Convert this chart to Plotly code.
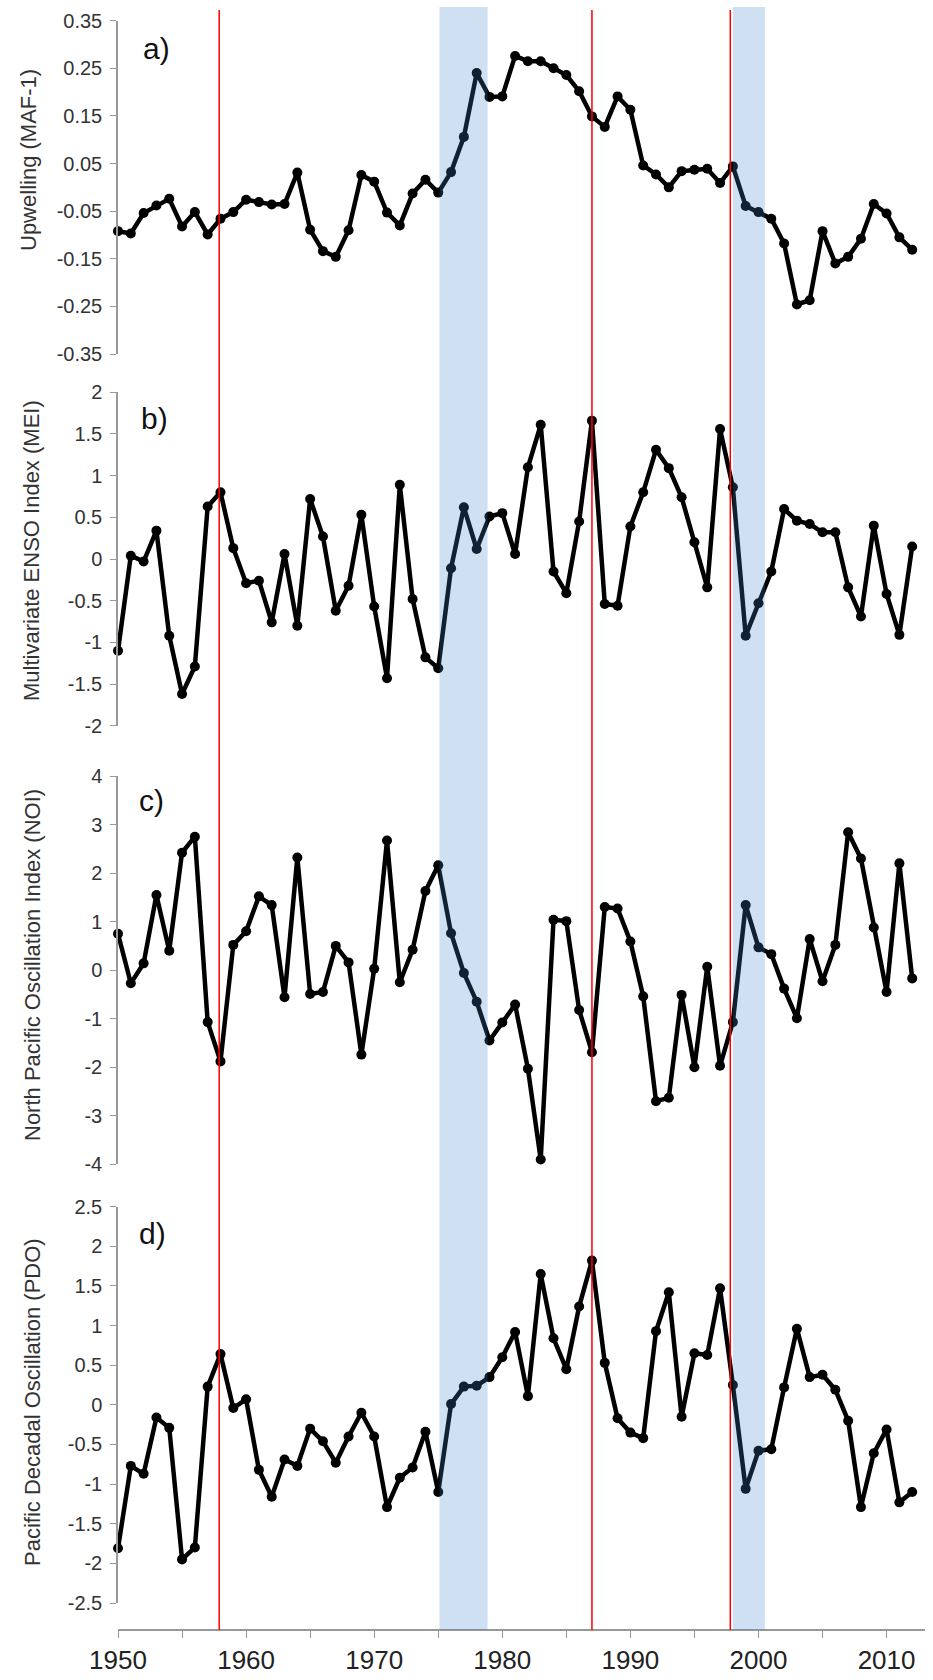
import plotly.graph_objects as go

years = list(range(1950, 2013))

upwelling = [-0.092, -0.097, -0.054, -0.038, -0.024, -0.082, -0.052, -0.099, -0.066, -0.052,
             -0.026, -0.031, -0.036, -0.035, 0.031, -0.089, -0.134, -0.146, -0.090, 0.026,
             0.012, -0.053, -0.080, -0.013, 0.016, -0.011, 0.032, 0.106, 0.240, 0.190,
             0.191, 0.276, 0.265, 0.265, 0.250, 0.236, 0.202, 0.149, 0.127, 0.191,
             0.163, 0.046, 0.027, 0.000, 0.034, 0.037, 0.039, 0.009, 0.044, -0.039,
             -0.052, -0.066, -0.118, -0.246, -0.237, -0.092, -0.160, -0.146, -0.108, -0.035,
             -0.055, -0.105, -0.131]

mei = [-1.10, 0.04, -0.03, 0.34, -0.92, -1.62, -1.29, 0.63, 0.80, 0.13,
       -0.29, -0.26, -0.76, 0.06, -0.80, 0.72, 0.27, -0.62, -0.32, 0.53,
       -0.57, -1.43, 0.89, -0.48, -1.18, -1.31, -0.11, 0.62, 0.12, 0.51,
       0.55, 0.06, 1.10, 1.61, -0.15, -0.41, 0.45, 1.66, -0.54, -0.56,
       0.39, 0.80, 1.31, 1.09, 0.74, 0.20, -0.34, 1.56, 0.86, -0.92,
       -0.53, -0.15, 0.60, 0.46, 0.42, 0.32, 0.32, -0.34, -0.69, 0.40,
       -0.42, -0.91, 0.15]

noi = [0.75, -0.27, 0.14, 1.55, 0.40, 2.42, 2.75, -1.07, -1.88, 0.52,
       0.80, 1.52, 1.34, -0.56, 2.32, -0.49, -0.45, 0.50, 0.16, -1.74,
       0.03, 2.67, -0.25, 0.42, 1.63, 2.16, 0.76, -0.06, -0.65, -1.45,
       -1.08, -0.71, -2.03, -3.90, 1.04, 1.01, -0.82, -1.69, 1.30, 1.27,
       0.59, -0.54, -2.70, -2.63, -0.51, -2.00, 0.07, -1.97, -1.07, 1.34,
       0.47, 0.33, -0.38, -0.99, 0.64, -0.23, 0.52, 2.84, 2.30, 0.88,
       -0.45, 2.20, -0.17]

pdo = [-1.81, -0.77, -0.87, -0.16, -0.29, -1.95, -1.80, 0.23, 0.64, -0.04,
       0.07, -0.82, -1.16, -0.69, -0.77, -0.30, -0.46, -0.73, -0.40, -0.10,
       -0.40, -1.29, -0.92, -0.79, -0.34, -1.10, 0.01, 0.23, 0.24, 0.35,
       0.60, 0.92, 0.11, 1.65, 0.84, 0.45, 1.24, 1.82, 0.53, -0.17,
       -0.35, -0.42, 0.93, 1.42, -0.15, 0.65, 0.63, 1.47, 0.25, -1.06,
       -0.58, -0.56, 0.22, 0.96, 0.35, 0.38, 0.19, -0.20, -1.29, -0.61,
       -0.31, -1.23, -1.10]

series = [upwelling, mei, noi, pdo]
panel_letters = ["a)", "b)", "c)", "d)"]
y_titles = ["Upwelling (MAF-1)", "Multivariate ENSO Index (MEI)",
            "North Pacific Oscillation Index (NOI)", "Pacific Decadal Oscillation (PDO)"]

a_ticks = [0.35, 0.25, 0.15, 0.05, -0.05, -0.15, -0.25, -0.35]
a_labels = ["0.35", "0.25", "0.15", "0.05", "-0.05", "-0.15", "-0.25", "-0.35"]
b_ticks = [2, 1.5, 1, 0.5, 0, -0.5, -1, -1.5, -2]
b_labels = ["2", "1.5", "1", "0.5", "0", "-0.5", "-1", "-1.5", "-2"]
c_ticks = [4, 3, 2, 1, 0, -1, -2, -3, -4]
c_labels = ["4", "3", "2", "1", "0", "-1", "-2", "-3", "-4"]
d_ticks = [2.5, 2, 1.5, 1, 0.5, 0, -0.5, -1, -1.5, -2, -2.5]
d_labels = ["2.5", "2", "1.5", "1", "0.5", "0", "-0.5", "-1", "-1.5", "-2", "-2.5"]

x_ticks = [1950, 1960, 1970, 1980, 1990, 2000, 2010]
x_labels = ["1950", "1960", "1970", "1980", "1990", "2000", "2010"]

red_lines = [1957.9, 1987.0, 1997.8]
blue_bands = [(1975.1, 1978.85), (1998.0, 2000.5)]

W, H = 933, 1680
L, R = 118, 8


def py(p):
    return 1 - p / H


def px(p):
    return (p - L) / (W - L - R)


# pixel extents of each panel's y-axis (top, bottom)
panel_px = [(20.7, 354.0), (392.3, 725.7), (776.0, 1164.3), (1206.7, 1603.0)]
ranges = [(-0.35, 0.35), (-2, 2), (-4, 4), (-2.5, 2.5)]
tick_sets = [(a_ticks, a_labels), (b_ticks, b_labels), (c_ticks, c_labels), (d_ticks, d_labels)]
title_centers = [(28, 160), (32, 551), (33, 965), (32, 1402)]
letter_pos = [(156.7, 48), (154, 418), (151, 800), (152.5, 1233)]

FONT = "Arial, Liberation Sans, sans-serif"
fig = go.Figure()

for i, vals in enumerate(series):
    fig.add_trace(go.Scatter(
        x=years, y=vals, mode="lines+markers",
        line=dict(color="black", width=4.5),
        marker=dict(color="black", size=10),
        xaxis="x", yaxis="y" if i == 0 else f"y{i+1}",
        cliponaxis=False, showlegend=False,
    ))

layout = dict(
    width=W, height=H,
    margin=dict(l=L, r=R, t=0, b=0),
    paper_bgcolor="white", plot_bgcolor="white",
    font=dict(family=FONT, color="#333333"),
    showlegend=False,
    xaxis=dict(
        domain=[0, 1], range=[1950, 2013], anchor="free", position=py(1630),
        showline=True, linecolor="#999999", linewidth=1.5,
        tickvals=x_ticks, ticktext=x_labels, ticks="outside", ticklen=7,
        tickcolor="#999999", tickwidth=1.2,
        minor=dict(ticks="outside", dtick=5, tick0=1950, ticklen=7, tickcolor="#999999", tickwidth=1.2),
        tickfont=dict(size=26, color="#222222", family=FONT),
        showgrid=False, zeroline=False, automargin=False,
    ),
)

for i in range(4):
    top, bot = panel_px[i]
    key = "yaxis" if i == 0 else f"yaxis{i+1}"
    tv, tt = tick_sets[i]
    layout[key] = dict(
        domain=[py(bot), py(top)], range=list(ranges[i]), anchor="x",
        showline=True, linecolor="#999999", linewidth=1.5,
        tickvals=tv, ticktext=tt, ticks="outside", ticklen=6,
        tickcolor="#999999", tickwidth=1.2,
        tickfont=dict(size=20, color="#333333", family=FONT),
        ticklabelstandoff=4,
        showgrid=False, zeroline=False, automargin=False,
    )

fig.update_layout(**layout)

shapes = []
for x0, x1 in blue_bands:
    shapes.append(dict(type="rect", xref="x", yref="paper", x0=x0, x1=x1,
                       y0=py(1630), y1=py(7), fillcolor="rgba(60,130,200,0.25)",
                       line=dict(width=0), layer="above"))
for xv in red_lines:
    shapes.append(dict(type="line", xref="x", yref="paper", x0=xv, x1=xv,
                       y0=py(1630), y1=py(10), line=dict(color="#ff0000", width=1.5),
                       layer="above"))
fig.update_layout(shapes=shapes)

ann = []
for i in range(4):
    tx, ty = title_centers[i]
    ann.append(dict(text=y_titles[i], xref="paper", yref="paper", x=px(tx), y=py(ty),
                    xanchor="center", yanchor="middle", textangle=-90, showarrow=False,
                    font=dict(size=22, color="#333333", family=FONT)))
    lx, ly = letter_pos[i]
    ann.append(dict(text=panel_letters[i], xref="paper", yref="paper", x=px(lx), y=py(ly),
                    xanchor="center", yanchor="middle", showarrow=False,
                    font=dict(size=30, color="#111111", family=FONT)))
fig.update_layout(annotations=ann)

fig.write_html("out.html", config={"displayModeBar": False},
               post_script="document.body.style.margin='0';document.body.style.overflow='hidden';")
